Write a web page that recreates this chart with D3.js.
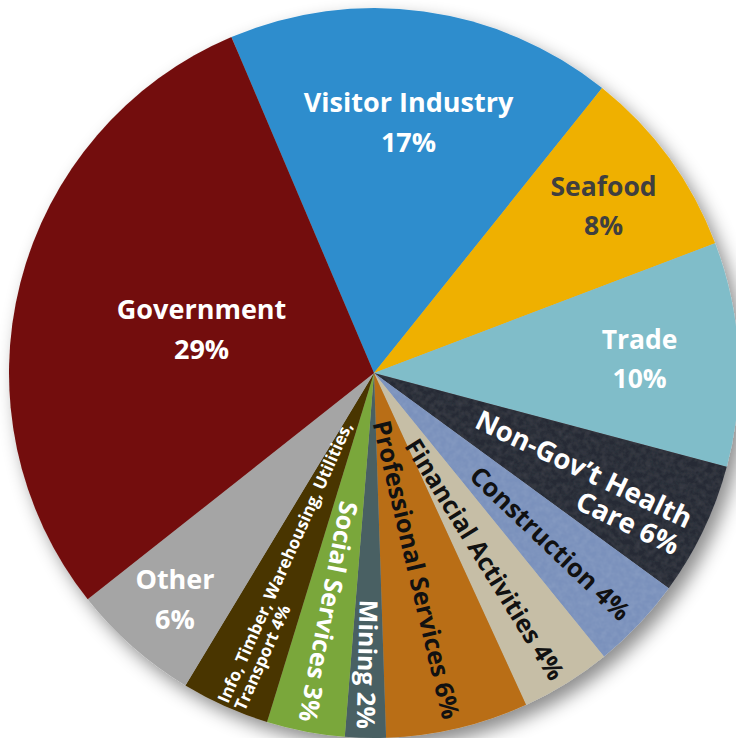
<!DOCTYPE html>
<html>
<head>
<meta charset="utf-8">
<script src="https://cdn.jsdelivr.net/npm/d3@7/dist/d3.min.js"></script>
<style>
  html, body { margin: 0; padding: 0; background: #ffffff; }
  svg { display: block; }
  text { font-family: "Open Sans", Lato, sans-serif; font-weight: 700; }
</style>
</head>
<body>
<div id="chart"></div>
<script>
// Employment by sector (share of total jobs, %)
const sectors = [
  "Visitor Industry", "Seafood", "Trade", "Non-Gov’t Health Care", "Construction",
  "Financial Activities", "Professional Services", "Mining", "Social Services",
  "Info, Timber, Warehousing, Utilities, Transport", "Other", "Government"
];
const shares = [17.1, 8.45, 9.9, 5.9, 4.1, 4.0, 6.3, 1.8, 3.45, 3.9, 5.7, 29.2];

// Label text, line by line; "{p}" is replaced by the rounded share
const labelLines = [
  ["Visitor Industry", "{p}"],
  ["Seafood", "{p}"],
  ["Trade", "{p}"],
  ["Non-Gov’t Health", "Care {p}"],
  ["Construction {p}"],
  ["Financial Activities {p}"],
  ["Professional Services {p}"],
  ["Mining {p}"],
  ["Social Services {p}"],
  ["Info, Timber, Warehousing, Utilities,", "Transport {p}"],
  ["Other", "{p}"],
  ["Government", "{p}"]
];

const sliceColors = [
  "#2f8dcd", "#efb000", "#80bdc9", "#272b35", "#7a91bc", "#c6bea6",
  "#b96e14", "#4a6064", "#7aa73a", "#4a3503", "#a5a5a5", "#730f0c"
];
const textColors = [
  "#ffffff", "#3f3f3f", "#ffffff", "#ffffff", "#111111", "#111111",
  "#111111", "#ffffff", "#ffffff", "#ffffff", "#ffffff", "#ffffff"
];
// Slices printed with a canvas-like grain
const grainy = [false, false, false, true, true, false, false, false, false, false, false, false];

// Label layout: "flat" = horizontal, centred; "out" = along the radius, ending near the rim;
// "in" = along the radius, reading from the rim towards the centre
const labelMode = ["flat", "flat", "flat", "out", "out", "out", "out", "out", "out", "in", "flat", "flat"];
const labelRadius = [253, 284, 266, 349, 350, 356, 354, 356, 355, 362, 301, 178];
const labelShift = [0, 0, 0, 11, 2, 4, 4, 0, 0, 5, 0, 0];
const labelSize = [27, 26.5, 26.5, 27.5, 25.5, 25, 25, 25, 25, 17, 27, 27];

const width = 736, height = 738;
const cx = 374, cy = 373, radius = 365;
const startDeg = -23;

const svg = d3.select("#chart").append("svg")
  .attr("width", width).attr("height", height);

const defs = svg.append("defs");
const shadow = defs.append("filter").attr("id", "pieShadow")
  .attr("x", "-10%").attr("y", "-10%").attr("width", "125%").attr("height", "125%");
shadow.append("feDropShadow")
  .attr("dx", 7).attr("dy", 9).attr("stdDeviation", 9)
  .attr("flood-color", "#000").attr("flood-opacity", 0.45);

// Soft mottled grain: low-frequency noise as a faint light overlay, kept inside the shape
const grain = defs.append("filter").attr("id", "grain")
  .attr("color-interpolation-filters", "sRGB")
  .attr("x", 0).attr("y", 0).attr("width", "100%").attr("height", "100%");
grain.append("feTurbulence")
  .attr("type", "fractalNoise").attr("baseFrequency", 0.18)
  .attr("numOctaves", 2).attr("seed", 7).attr("result", "noise");
grain.append("feColorMatrix").attr("in", "noise").attr("type", "matrix")
  .attr("values", "0 0 0 0 1  0 0 0 0 1  0 0 0 0 1  0.16 0 0 0 -0.05")
  .attr("result", "speck");
grain.append("feComposite").attr("in", "speck").attr("in2", "SourceGraphic")
  .attr("operator", "in").attr("result", "speckIn");
const merge = grain.append("feMerge");
merge.append("feMergeNode").attr("in", "SourceGraphic");
merge.append("feMergeNode").attr("in", "speckIn");

const pie = d3.pie().sort(null).value(d => d)
  .startAngle(startDeg * Math.PI / 180)
  .endAngle(startDeg * Math.PI / 180 + 2 * Math.PI);
const arcs = pie(shares);
const arc = d3.arc().innerRadius(0).outerRadius(radius);

const g = svg.append("g").attr("transform", `translate(${cx},${cy})`);

g.append("g").attr("filter", "url(#pieShadow)")
  .selectAll("path").data(arcs).join("path")
  .attr("d", arc)
  .attr("fill", (d, i) => sliceColors[i])
  .attr("filter", (d, i) => grainy[i] ? "url(#grain)" : null);

const fmt = v => Math.round(v) + "%";

g.append("g").selectAll("g").data(arcs).join("g")
  .each(function (d, i) {
    const el = d3.select(this);
    const lines = labelLines[i].map(s => s.replace("{p}", fmt(shares[i])));
    const mid = (d.startAngle + d.endAngle) / 2;
    const size = labelSize[i];
    const mode = labelMode[i];
    if (mode === "flat") {
      const [x, y] = d3.arc().innerRadius(labelRadius[i]).outerRadius(labelRadius[i]).centroid(d);
      const gap = size * 1.48;
      lines.forEach((t, k) => {
        el.append("text")
          .attr("x", x)
          .attr("y", y + (k - (lines.length - 1) / 2) * gap)
          .attr("dy", "0.36em")
          .attr("text-anchor", "middle")
          .attr("font-size", size)
          .attr("fill", textColors[i])
          .text(t);
      });
    } else {
      const deg = mid * 180 / Math.PI - 90;
      const rot = mode === "out" ? deg : deg - 180;
      const gap = size * 1.08;
      const tg = el.append("g").attr("transform", `rotate(${rot})`);
      lines.forEach((t, k) => {
        tg.append("text")
          .attr("x", mode === "out" ? labelRadius[i] : -labelRadius[i])
          .attr("y", labelShift[i] + (k - (lines.length - 1) / 2) * gap)
          .attr("dy", "0.36em")
          .attr("text-anchor", mode === "out" ? "end" : "start")
          .attr("font-size", size)
          .attr("fill", textColors[i])
          .text(t);
      });
    }
  });
</script>
</body>
</html>
